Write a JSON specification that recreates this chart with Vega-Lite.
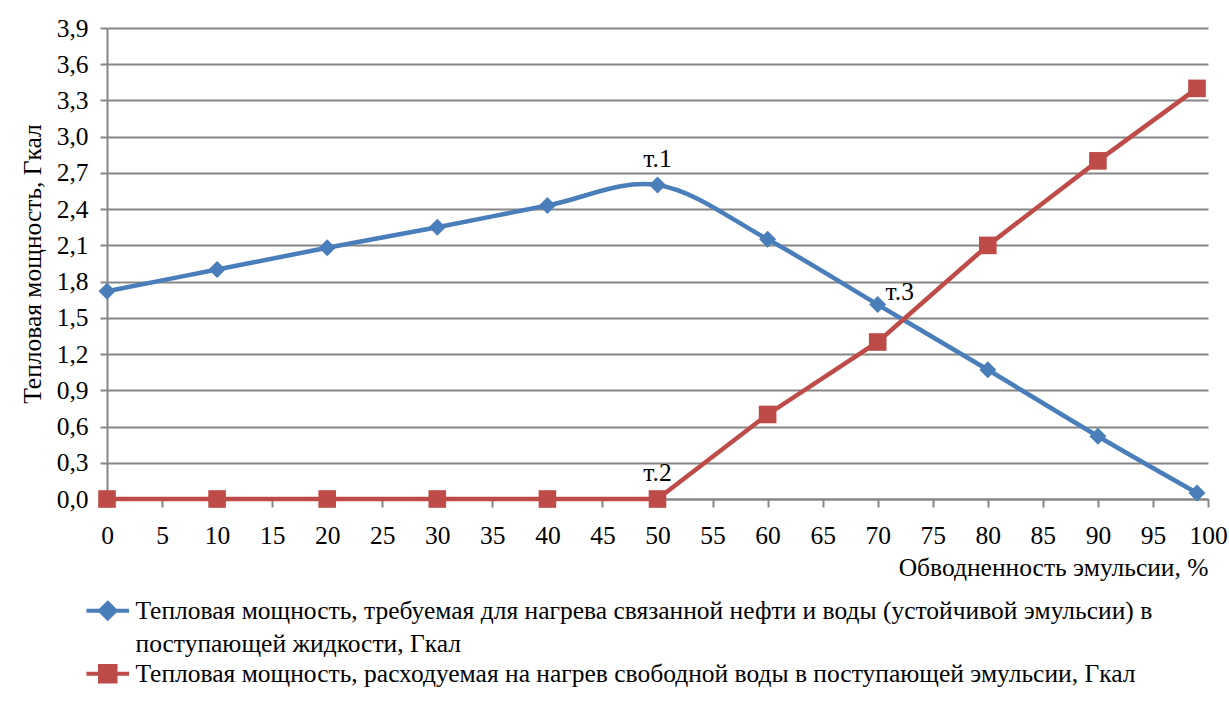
{
  "$schema": "https://vega.github.io/schema/vega-lite/v6.json",
  "width": 1101,
  "height": 471,
  "autosize": "none",
  "padding": {"left": 107, "top": 28, "right": 21, "bottom": 211},
  "background": "white",
  "config": {
    "view": {"stroke": null},
    "font": "Liberation Serif, Times New Roman, serif",
    "text": {"font": "Liberation Serif, Times New Roman, serif"}
  },
  "datasets": {
    "series": [
      {"x": 0, "y": 1.72, "s": "Тепловая мощность, требуемая для нагрева связанной нефти и воды (устойчивой эмульсии) в|поступающей жидкости, Гкал"},
      {"x": 10, "y": 1.90, "s": "Тепловая мощность, требуемая для нагрева связанной нефти и воды (устойчивой эмульсии) в|поступающей жидкости, Гкал"},
      {"x": 20, "y": 2.08, "s": "Тепловая мощность, требуемая для нагрева связанной нефти и воды (устойчивой эмульсии) в|поступающей жидкости, Гкал"},
      {"x": 30, "y": 2.25, "s": "Тепловая мощность, требуемая для нагрева связанной нефти и воды (устойчивой эмульсии) в|поступающей жидкости, Гкал"},
      {"x": 40, "y": 2.43, "s": "Тепловая мощность, требуемая для нагрева связанной нефти и воды (устойчивой эмульсии) в|поступающей жидкости, Гкал"},
      {"x": 50, "y": 2.60, "s": "Тепловая мощность, требуемая для нагрева связанной нефти и воды (устойчивой эмульсии) в|поступающей жидкости, Гкал"},
      {"x": 60, "y": 2.15, "s": "Тепловая мощность, требуемая для нагрева связанной нефти и воды (устойчивой эмульсии) в|поступающей жидкости, Гкал"},
      {"x": 70, "y": 1.61, "s": "Тепловая мощность, требуемая для нагрева связанной нефти и воды (устойчивой эмульсии) в|поступающей жидкости, Гкал"},
      {"x": 80, "y": 1.07, "s": "Тепловая мощность, требуемая для нагрева связанной нефти и воды (устойчивой эмульсии) в|поступающей жидкости, Гкал"},
      {"x": 90, "y": 0.52, "s": "Тепловая мощность, требуемая для нагрева связанной нефти и воды (устойчивой эмульсии) в|поступающей жидкости, Гкал"},
      {"x": 99, "y": 0.05, "s": "Тепловая мощность, требуемая для нагрева связанной нефти и воды (устойчивой эмульсии) в|поступающей жидкости, Гкал"},
      {"x": 0, "y": 0, "s": "Тепловая мощность, расходуемая на нагрев свободной воды в поступающей эмульсии, Гкал"},
      {"x": 10, "y": 0, "s": "Тепловая мощность, расходуемая на нагрев свободной воды в поступающей эмульсии, Гкал"},
      {"x": 20, "y": 0, "s": "Тепловая мощность, расходуемая на нагрев свободной воды в поступающей эмульсии, Гкал"},
      {"x": 30, "y": 0, "s": "Тепловая мощность, расходуемая на нагрев свободной воды в поступающей эмульсии, Гкал"},
      {"x": 40, "y": 0, "s": "Тепловая мощность, расходуемая на нагрев свободной воды в поступающей эмульсии, Гкал"},
      {"x": 50, "y": 0, "s": "Тепловая мощность, расходуемая на нагрев свободной воды в поступающей эмульсии, Гкал"},
      {"x": 60, "y": 0.70, "s": "Тепловая мощность, расходуемая на нагрев свободной воды в поступающей эмульсии, Гкал"},
      {"x": 70, "y": 1.30, "s": "Тепловая мощность, расходуемая на нагрев свободной воды в поступающей эмульсии, Гкал"},
      {"x": 80, "y": 2.10, "s": "Тепловая мощность, расходуемая на нагрев свободной воды в поступающей эмульсии, Гкал"},
      {"x": 90, "y": 2.80, "s": "Тепловая мощность, расходуемая на нагрев свободной воды в поступающей эмульсии, Гкал"},
      {"x": 99, "y": 3.40, "s": "Тепловая мощность, расходуемая на нагрев свободной воды в поступающей эмульсии, Гкал"}
    ],
    "marks": [
      {"x": 50, "y": 2.60, "label": "т.1"},
      {"x": 50, "y": 0, "label": "т.2"},
      {"x": 72, "y": 1.5, "label": "т.3"}
    ]
  },
  "encoding": {
    "x": {
      "field": "x", "type": "quantitative",
      "scale": {"domain": [0, 100], "nice": false, "zero": false},
      "axis": {
        "values": [0, 5, 10, 15, 20, 25, 30, 35, 40, 45, 50, 55, 60, 65, 70, 75, 80, 85, 90, 95, 100],
        "grid": false,
        "domainColor": "#868686", "domainWidth": 2,
        "tickColor": "#868686", "tickWidth": 2, "tickSize": 8,
        "labelFont": "Liberation Serif, Times New Roman, serif", "labelFontSize": 25.5, "labelColor": "#000000",
        "labelPadding": 16, "labelFlush": false, "labelOverlap": false,
        "title": "Обводненность эмульсии, %",
        "titleFont": "Liberation Serif, Times New Roman, serif", "titleFontSize": 25.5, "titleFontWeight": "normal", "titleColor": "#000000",
        "titleAnchor": "end", "titleAlign": "right", "titlePadding": 7
      }
    },
    "y": {
      "field": "y", "type": "quantitative",
      "scale": {"domain": [0, 3.9], "nice": false},
      "axis": {
        "values": [0, 0.3, 0.6, 0.9, 1.2, 1.5, 1.8, 2.1, 2.4, 2.7, 3.0, 3.3, 3.6, 3.9],
        "labelExpr": "replace(format(datum.value, '.1f'), '.', ',')",
        "grid": true, "gridColor": "#868686", "gridWidth": 2,
        "domainColor": "#868686", "domainWidth": 2,
        "tickColor": "#868686", "tickWidth": 2, "tickSize": 7,
        "labelFont": "Liberation Serif, Times New Roman, serif", "labelFontSize": 25.5, "labelColor": "#000000",
        "labelPadding": 12, "labelFlush": false, "labelOverlap": false,
        "title": "Тепловая мощность, Гкал",
        "titleFont": "Liberation Serif, Times New Roman, serif", "titleFontSize": 25.5, "titleFontWeight": "normal", "titleColor": "#000000",
        "titlePadding": 11
      }
    }
  },
  "layer": [
    {
      "data": {"name": "series"},
      "transform": [{"filter": "indexof(datum.s, 'требуемая') >= 0"}],
      "mark": {"type": "line", "interpolate": "cardinal", "strokeWidth": 4.5},
      "encoding": {
        "color": {
          "field": "s", "type": "nominal",
          "scale": {
            "domain": [
              "Тепловая мощность, требуемая для нагрева связанной нефти и воды (устойчивой эмульсии) в|поступающей жидкости, Гкал",
              "Тепловая мощность, расходуемая на нагрев свободной воды в поступающей эмульсии, Гкал"
            ],
            "range": ["#4A7EBB", "#BE4B48"]
          },
          "legend": {
            "title": null,
            "orient": "none",
            "legendX": -12,
            "legendY": 570,
            "direction": "vertical",
            "padding": 0,
            "labelFont": "Liberation Serif, Times New Roman, serif", "labelFontSize": 25.5, "labelColor": "#000000",
            "labelLimit": 1200,
            "labelOffset": 15,
            "labelExpr": "split(datum.label, '|')",
            "symbolSize": 240,
            "symbolStrokeWidth": 4,
            "rowPadding": 0,
            "encode": {
              "labels": {
                "update": {
                  "lineHeight": {"value": 33}
                }
              },
              "symbols": {
                "update": {
                  "shape": {"signal": "datum.index === 0 ? 'M-2.75,0H2.75M0,-1L1,0L0,1L-1,0Z' : 'M-2.75,0H2.75M-1,-1H1V1H-1Z'"},
                  "fill": {"signal": "datum.index === 0 ? '#4A7EBB' : '#BE4B48'"},
                  "stroke": {"signal": "datum.index === 0 ? '#4A7EBB' : '#BE4B48'"},
                  "fillOpacity": {"value": 1},
                  "strokeWidth": {"value": 4}
                }
              }
            }
          }
        }
      }
    },
    {
      "data": {"name": "series"},
      "transform": [{"filter": "indexof(datum.s, 'расходуемая') >= 0"}],
      "mark": {"type": "line", "interpolate": "linear", "strokeWidth": 4.5},
      "encoding": {
        "color": {"field": "s", "type": "nominal"}
      }
    },
    {
      "data": {"name": "series"},
      "transform": [{"filter": "indexof(datum.s, 'требуемая') >= 0"}],
      "mark": {"type": "point", "shape": "diamond", "filled": true, "opacity": 1, "size": 290},
      "encoding": {
        "color": {"field": "s", "type": "nominal"}
      }
    },
    {
      "data": {"name": "series"},
      "transform": [{"filter": "indexof(datum.s, 'расходуемая') >= 0"}],
      "mark": {"type": "point", "shape": "square", "filled": true, "opacity": 1, "size": 310},
      "encoding": {
        "color": {"field": "s", "type": "nominal"}
      }
    },
    {
      "data": {"name": "marks"},
      "mark": {"type": "text", "font": "Liberation Serif, Times New Roman, serif", "fontSize": 25.5, "color": "#000000", "dy": -26, "baseline": "middle", "align": "center"},
      "encoding": {
        "text": {"field": "label"}
      }
    }
  ]
}
